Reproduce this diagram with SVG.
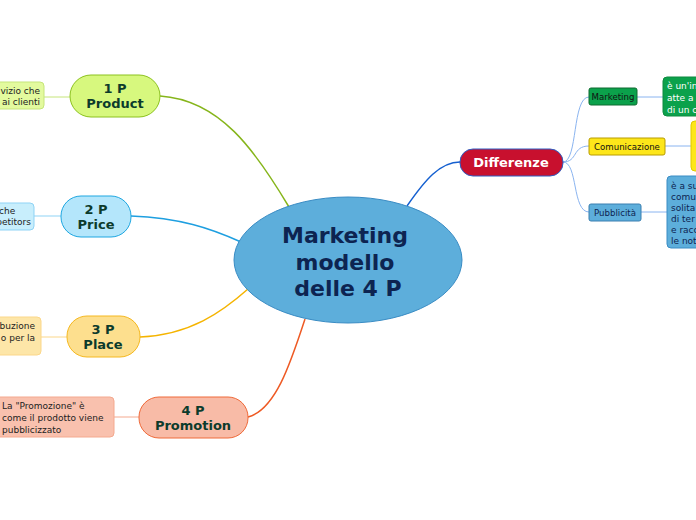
<svg xmlns="http://www.w3.org/2000/svg" width="696" height="520" viewBox="0 0 696 520">
<style>
text{font-family:"DejaVu Sans","Verdana",sans-serif}
.main{font-size:13px;font-weight:bold;fill:#0c3b2c;text-anchor:middle}
.leaf{font-size:9px;fill:#222}
.small{font-size:8.6px;fill:#111}
.con{fill:none;stroke-width:1.5}
.thin{fill:none;stroke-width:1}
</style>
<rect width="696" height="520" fill="#ffffff"/>
<g id="connectors">
<path class="con" stroke="#86b51b" d="M160,96 C220,100 255,150 289,207"/>
<path class="con" stroke="#1e9fe0" d="M131,216 C180,218 210,228 241,242"/>
<path class="con" stroke="#f5b400" d="M140,337 C190,335 222,312 248,289"/>
<path class="con" stroke="#ee5a24" d="M248,417 C275,410 290,365 305,319"/>
<path class="con" stroke="#1560d0" d="M407,206 C425,180 440,162 460,162"/>
<path class="thin" stroke="#c6e57a" d="M44,97 L70,97"/>
<path class="thin" stroke="#8fd3f5" d="M34,216 L61,216"/>
<path class="thin" stroke="#fbd78a" d="M41,337 L67,337"/>
<path class="thin" stroke="#f4a98f" d="M114,417 L139,417"/>
<path class="thin" stroke="#8ab4f0" d="M563,162 C578,162 572,97 589,97"/>
<path class="thin" stroke="#8ab4f0" d="M563,162 C578,162 572,146 589,146"/>
<path class="thin" stroke="#8ab4f0" d="M563,162 C578,162 572,212 589,212"/>
<path class="thin" stroke="#8ab4f0" d="M637,97 L663,97"/>
<path class="thin" stroke="#8ab4f0" d="M665,146 L691,146"/>
<path class="thin" stroke="#8ab4f0" d="M641,212 L667,212"/>
</g>
<g id="center">
<ellipse cx="348" cy="260" rx="114" ry="63" fill="#5daedb" stroke="#3a8cc4" stroke-width="1"/>
<text x="345" y="243" font-size="22" font-weight="bold" fill="#0d2451" text-anchor="middle">Marketing</text>
<text x="345" y="270" font-size="22" font-weight="bold" fill="#0d2451" text-anchor="middle">modello</text>
<text x="348" y="296" font-size="22" font-weight="bold" fill="#0d2451" text-anchor="middle">delle 4 P</text>
</g>
<g id="product">
<rect x="70" y="75" width="90" height="42" rx="21" fill="#d7f87e" stroke="#8cc21e"/>
<text class="main" x="115" y="93">1 P</text>
<text class="main" x="115" y="108">Product</text>
</g>
<g id="product-leaf">
<rect x="-20" y="82" width="64" height="27" rx="4" fill="#e3fa9e" stroke="#c6e57a"/>
<text class="leaf" x="40" y="94" text-anchor="end">vizio che</text>
<text class="leaf" x="40" y="105" text-anchor="end">ai clienti</text>
</g>
<g id="price">
<rect x="61" y="196" width="70" height="41" rx="20" fill="#b4e6fb" stroke="#1ea7e1"/>
<text class="main" x="96" y="214">2 P</text>
<text class="main" x="96" y="229">Price</text>
</g>
<g id="price-leaf">
<rect x="-20" y="203" width="54" height="27" rx="4" fill="#c8eefc" stroke="#8fd3f5"/>
<text class="leaf" x="-1" y="214">che</text>
<text class="leaf" x="31" y="225" text-anchor="end">petitors</text>
</g>
<g id="place">
<rect x="67" y="316" width="73" height="41" rx="20" fill="#fddf8e" stroke="#f5b820"/>
<text class="main" x="103" y="334">3 P</text>
<text class="main" x="103" y="349">Place</text>
</g>
<g id="place-leaf">
<rect x="-20" y="317" width="61" height="38" rx="4" fill="#fde6a8" stroke="#fbd78a"/>
<text class="leaf" x="35" y="329" text-anchor="end">buzione</text>
<text class="leaf" x="35" y="341" text-anchor="end">o per la</text>
</g>
<g id="promotion">
<rect x="139" y="397" width="109" height="41" rx="20" fill="#f8bba7" stroke="#ef6a3a"/>
<text class="main" x="193" y="415">4 P</text>
<text class="main" x="193" y="430">Promotion</text>
</g>
<g id="promotion-leaf">
<rect x="-10" y="397" width="124" height="40" rx="4" fill="#f9c1ae" stroke="#f4a98f"/>
<text class="leaf" x="2" y="409">La "Promozione" è</text>
<text class="leaf" x="2" y="421">come il prodotto viene</text>
<text class="leaf" x="2" y="433">pubblicizzato</text>
</g>
<g id="differenze">
<rect x="460" y="149" width="103" height="27" rx="13" fill="#c8102e" stroke="#2f5dc2"/>
<text x="511" y="167" font-size="13" font-weight="bold" fill="#ffffff" text-anchor="middle">Differenze</text>
</g>
<g id="marketing">
<rect x="589" y="88" width="48" height="17" rx="2" fill="#0ba14b" stroke="#0f6b30"/>
<text class="small" x="613" y="100" text-anchor="middle" font-size="8">Marketing</text>
</g>
<g id="marketing-leaf">
<rect x="663" y="77" width="50" height="39" rx="4" fill="#0ba14b" stroke="#0f8a40"/>
<text class="leaf" x="667" y="89" fill="#ffffff" style="fill:#fff">è un'in</text>
<text class="leaf" x="667" y="101" style="fill:#fff">atte a</text>
<text class="leaf" x="667" y="113" style="fill:#fff">di un c</text>
</g>
<g id="comunicazione">
<rect x="589" y="138" width="76" height="17" rx="2" fill="#fde61a" stroke="#b89c00"/>
<text class="small" x="627" y="150" text-anchor="middle">Comunicazione</text>
</g>
<g id="comunicazione-leaf">
<rect x="691" y="121" width="20" height="50" rx="4" fill="#fde61a" stroke="#e0c800"/>
</g>
<g id="pubblicita">
<rect x="589" y="204" width="52" height="17" rx="2" fill="#5daedb" stroke="#3a7fb0"/>
<text class="small" x="615" y="216" text-anchor="middle" style="fill:#0d2451">Pubblicità</text>
</g>
<g id="pubblicita-leaf">
<rect x="667" y="176" width="40" height="72" rx="4" fill="#5daedb" stroke="#3a8cc4"/>
<text class="leaf" x="671" y="189" style="fill:#0d2451">è a su</text>
<text class="leaf" x="671" y="200" style="fill:#0d2451">comu</text>
<text class="leaf" x="671" y="211" style="fill:#0d2451">solita</text>
<text class="leaf" x="671" y="222" style="fill:#0d2451">di ter</text>
<text class="leaf" x="671" y="233" style="fill:#0d2451">e racc</text>
<text class="leaf" x="671" y="244" style="fill:#0d2451">le not</text>
</g>
</svg>
